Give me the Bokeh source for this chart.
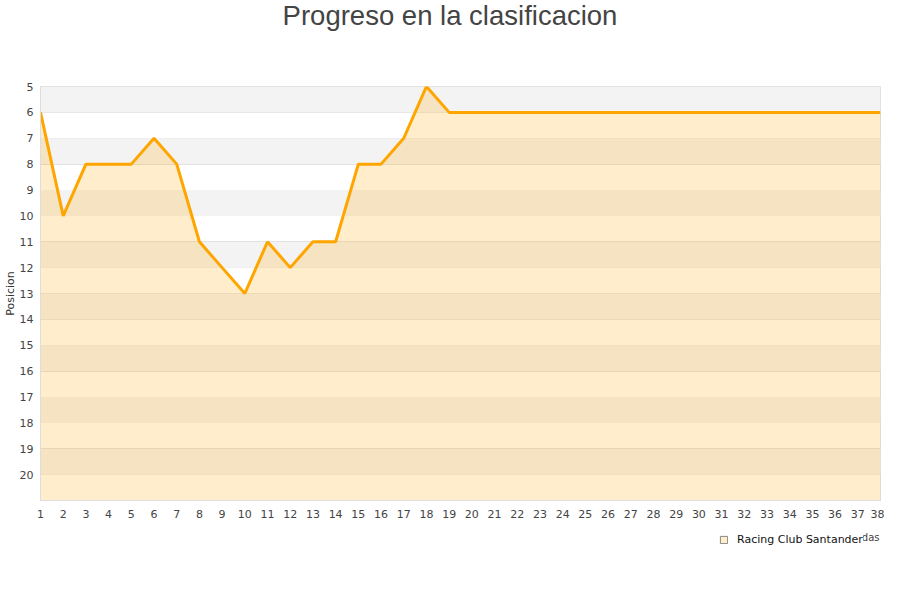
from bokeh.plotting import figure
from bokeh.layouts import column
from bokeh.models import Range1d, FixedTicker, Legend, LegendItem, ColumnDataSource, Label
from bokeh.embed import file_html
from bokeh.resources import INLINE

jornadas = list(range(1, 39))
posicion = [6, 10, 8, 8, 8, 7, 8, 11, 12, 13, 11, 12, 11, 11, 8, 8, 7, 5] + [6] * 20
y_ticks = list(range(5, 21))
team = "Racing Club Santander"
title_text = "Progreso en la clasificacion"
x_title = "Jornadas"

W = 884
FL, FR = 40, 880  # frame left/right in page pixels (frames are aligned in the column)


def blank(h):
    f = figure(width=W, height=h, output_backend="svg", toolbar_location=None,
               x_range=Range1d(FL, FR), y_range=Range1d(0, h),
               min_border_left=FL, min_border_right=W - FR,
               min_border_top=0, min_border_bottom=0)
    f.axis.visible = False
    f.grid.visible = False
    f.outline_line_color = None
    f.background_fill_color = "white"
    f.border_fill_color = "white"
    return f


# --- title strip ---
pt = blank(78)
pt.add_layout(Label(x=449.5, y=63, text=title_text, text_align="center", text_baseline="middle",
                    text_font="Liberation Sans", text_font_size="27.5px", text_color="#444444"))

# --- main chart ---
p = figure(width=W, height=447, output_backend="svg", toolbar_location=None,
           x_range=Range1d(1, 38), y_range=Range1d(21, 5),
           min_border_left=FL, min_border_right=W - FR, min_border_top=8, min_border_bottom=25)
p.outline_line_color = "#dddddd"
p.background_fill_color = "white"
p.border_fill_color = "white"

band_bottom = [b for b in range(5, 21, 2)]
p.quad(left=1, right=38, bottom=band_bottom, top=[b + 1 for b in band_bottom],
       fill_color="#f3f3f3", line_color=None)
p.ygrid.ticker = FixedTicker(ticks=list(range(5, 22)))
p.ygrid.grid_line_color = "#dddddd"
p.xgrid.grid_line_color = None

src = ColumnDataSource(dict(x=jornadas, y=posicion, base=[21] * len(jornadas)))
p.varea(x="x", y1="y", y2="base", source=src, fill_color="#ffa500", fill_alpha=0.2)
p.line(x="x", y="y", source=src, line_color="#ffa500", line_width=3)

p.yaxis.ticker = FixedTicker(ticks=y_ticks)
p.xaxis.ticker = FixedTicker(ticks=jornadas)
for ax in (p.xaxis[0], p.yaxis[0]):
    ax.major_tick_line_color = None
    ax.minor_tick_line_color = None
    ax.axis_line_color = "#dddddd"
    ax.major_label_text_font = "DejaVu Sans"
    ax.major_label_text_font_size = "11px"
    ax.major_label_text_color = "#444444"
p.yaxis.major_label_standoff = 1
p.xaxis.major_label_standoff = 3
p.yaxis.axis_label = "Posicion"
p.yaxis.axis_label_text_font = "DejaVu Sans"
p.yaxis.axis_label_text_font_style = "normal"
p.yaxis.axis_label_text_font_size = "11px"
p.yaxis.axis_label_text_color = "#333333"
p.yaxis.axis_label_standoff = 0

# --- legend strip (the x-axis title sits partly behind the legend, as in the original) ---
pl = blank(59)
dummy = pl.quad(left=[-100], right=[-90], top=[-100], bottom=[-90],
                fill_color="#ffedcc", line_color="#888888")
legend = Legend(items=[LegendItem(label=team, renderers=[dummy])], location=(679, 38),
                border_line_color=None, background_fill_color="white", background_fill_alpha=1,
                label_text_font="DejaVu Sans", label_text_font_size="11px",
                label_text_color="#111111", glyph_width=9, glyph_height=9,
                padding=3, margin=0, label_standoff=9, spacing=0, label_height=14)
pl.add_layout(legend)
pl.add_layout(Label(x=879, y=47, text=x_title, text_align="right", text_baseline="middle",
                    text_font="DejaVu Sans", text_font_size="10px", text_color="#444444",
                    level="underlay"))

layout = column(pt, p, pl, spacing=0)
open("out.html", "w").write(file_html(layout, INLINE))
